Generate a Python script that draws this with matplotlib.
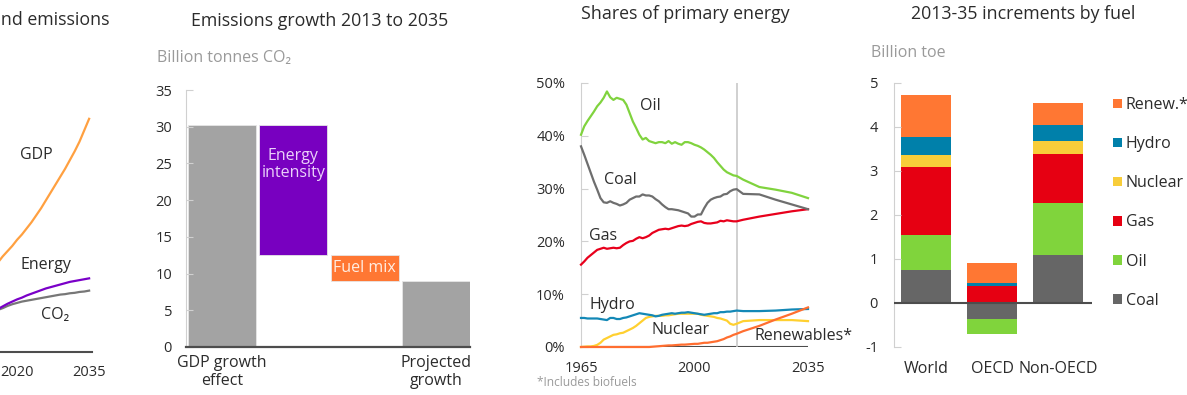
import matplotlib
matplotlib.use("Agg")
import matplotlib.pyplot as plt
import numpy as np

plt.rcParams['font.family'] = ['Open Sans', 'DejaVu Sans']
plt.rcParams['axes.unicode_minus'] = False

# ---------------- data ----------------
# Panel 1: GDP, energy and emissions (index, partial view)
p1_years = list(range(2014, 2036))
p1_gdp = [93, 98, 102, 109, 115, 121, 128, 134, 141, 148, 156,
          164, 173, 182, 191, 200, 209, 219, 229, 240, 253, 266]
p1_energy = [43, 46, 49, 52, 55, 57.5, 60, 62, 64.5, 66.5, 68.5,
             70.5, 72.5, 74, 75.5, 77, 78.5, 80, 81, 82, 83, 84]
p1_co2 = [43, 45.5, 48, 50, 52.5, 54.5, 56, 57.5, 58.5, 59.5, 60.5,
          61.5, 62.5, 63.5, 64.5, 65.5, 66, 67, 67.5, 68.5, 69, 70]
p1_ticks = [1990, 2005, 2020, 2035]

# Panel 2: Emissions growth 2013 to 2035 (billion tonnes CO2)
wf_labels = ["GDP growth\neffect", "Energy\nintensity", "Fuel mix", "Projected\ngrowth"]
wf_changes = [30.2, -17.7, -3.5]
wf_total = 9.0

# Panel 3: Shares of primary energy (%)
share_years = list(range(1965, 2014)) + [2015, 2020, 2025, 2030, 2035]
oil = [40.2, 41.8, 42.8, 43.7, 44.6, 45.6, 46.3, 47.2, 48.4, 47.3,
       46.8, 47.2, 47.0, 46.8, 45.9, 44.3, 42.7, 41.5, 40.2, 39.3,
       39.6, 39.0, 38.8, 38.6, 38.8, 38.8, 38.6, 39.0, 38.5, 38.8,
       38.5, 38.3, 38.8, 38.8, 38.6, 38.3, 38.1, 37.8, 37.4, 36.9,
       36.4, 35.8, 35.0, 34.3, 33.6, 33.1, 32.8, 32.5, 32.4,
       31.7, 30.3, 29.8, 29.2, 28.2]
coal = [38.0, 36.4, 34.7, 33.0, 31.3, 29.8, 28.2, 27.4, 27.3, 27.6,
        27.3, 27.1, 26.8, 27.0, 27.3, 27.9, 28.2, 28.5, 28.5, 28.9,
        28.7, 28.7, 28.5, 28.0, 27.6, 27.0, 26.5, 26.1, 26.1, 26.0,
        25.9, 25.7, 25.5, 25.3, 24.7, 24.7, 25.1, 25.1, 26.3, 27.3,
        27.9, 28.2, 28.4, 28.5, 28.9, 29.0, 29.5, 29.8, 29.9,
        29.0, 28.9, 27.9, 27.0, 26.1]
gas = [15.6, 16.2, 16.9, 17.4, 17.9, 18.4, 18.6, 18.8, 18.6, 18.7,
       18.8, 18.7, 18.8, 19.3, 19.7, 20.0, 20.1, 20.5, 20.8, 20.6,
       20.8, 21.1, 21.6, 21.9, 22.2, 22.3, 22.4, 22.3, 22.5, 22.7,
       22.9, 23.0, 22.9, 23.0, 23.3, 23.5, 23.7, 23.8, 23.5, 23.4,
       23.4, 23.5, 23.6, 23.9, 23.8, 24.0, 23.9, 23.8, 23.8,
       24.1, 24.7, 25.2, 25.7, 26.1]
hydro = [5.5, 5.5, 5.4, 5.4, 5.4, 5.4, 5.3, 5.2, 5.1, 5.5,
         5.5, 5.3, 5.3, 5.5, 5.6, 5.8, 6.0, 6.2, 6.4, 6.3,
         6.2, 6.1, 6.0, 5.8, 5.9, 6.1, 6.2, 6.3, 6.4, 6.3,
         6.4, 6.5, 6.5, 6.6, 6.5, 6.4, 6.3, 6.2, 6.1, 6.2,
         6.3, 6.4, 6.4, 6.6, 6.6, 6.7, 6.7, 6.8, 6.9,
         6.8, 6.8, 6.9, 7.1, 7.2]
nuclear = [0.0, 0.05, 0.1, 0.1, 0.2, 0.4, 0.8, 1.4, 1.7, 2.0,
           2.3, 2.4, 2.6, 2.7, 3.0, 3.3, 3.6, 4.0, 4.5, 5.0,
           5.5, 5.7, 5.8, 5.9, 5.9, 5.9, 6.0, 6.0, 6.1, 6.2,
           6.3, 6.3, 6.3, 6.3, 6.3, 6.3, 6.3, 6.1, 6.0, 5.9,
           5.8, 5.7, 5.5, 5.4, 5.2, 5.0, 4.4, 4.2, 4.4,
           4.9, 5.1, 5.1, 5.1, 4.9]
renewables = [0.0, 0.0, 0.0, 0.0, 0.0, 0.0, 0.0, 0.0, 0.0, 0.0,
              0.0, 0.0, 0.0, 0.0, 0.0, 0.0, 0.0, 0.0, 0.0, 0.0,
              0.0, 0.0, 0.05, 0.1, 0.15, 0.2, 0.25, 0.3, 0.3, 0.35,
              0.4, 0.45, 0.45, 0.5, 0.55, 0.6, 0.6, 0.7, 0.8, 0.8,
              0.9, 1.0, 1.1, 1.3, 1.5, 1.8, 2.0, 2.3, 2.5,
              3.0, 4.0, 5.2, 6.3, 7.5]
share_ticks = [1965, 2000, 2035]

# Panel 4: 2013-35 increments by fuel (billion toe)
regions = ["World", "OECD", "Non-OECD"]
fuels = ["Coal", "Oil", "Gas", "Nuclear", "Hydro", "Renew.*"]
inc_coal = [0.74, -0.36, 1.10]
inc_oil = [0.81, -0.34, 1.17]
inc_gas = [1.53, 0.39, 1.12]
inc_nuclear = [0.29, 0.0, 0.30]
inc_hydro = [0.40, 0.06, 0.36]
inc_renew = [0.95, 0.46, 0.49]

# ---------------- layout helpers ----------------
W, H = 1187, 395
fig = plt.figure(figsize=(W / 100, H / 100), dpi=100)


def add_ax(x0, ytop, x1, ybot):
    return fig.add_axes([x0 / W, 1 - ybot / H, (x1 - x0) / W, (ybot - ytop) / H])


def ftext(x, y, s, **kw):
    fig.text(x / W, 1 - y / H, s, **kw)


DARK = '#2b2b2b'
GRAYTXT = '#9a9a9a'
SPINE = '#d0d0d0'
BASE = '#4d4d4d'
TITLE_FS = 12.8
NUM_FS = 10.5
LAB_FS = 11.5

# ---------------- panel 1 ----------------
ax1 = add_ax(-127, 89, 92, 352)
ax1.set_xlim(1990, 2035.6)
ax1.set_ylim(0, 300)
for s in ['left', 'right', 'top']:
    ax1.spines[s].set_visible(False)
ax1.spines['bottom'].set_color(BASE)
ax1.spines['bottom'].set_linewidth(1.5)
ax1.set_yticks([])
ax1.set_xticks(p1_ticks)
ax1.tick_params(axis='x', length=0, pad=9, labelsize=NUM_FS, labelcolor=DARK)
ax1.plot(p1_years, p1_gdp, color='#FFA040', lw=1.6)
ax1.plot(p1_years, p1_co2, color='#777777', lw=1.6)
ax1.plot(p1_years, p1_energy, color='#7A00C8', lw=1.6)
ax1.text(2024.0, 225, 'GDP', color=DARK, fontsize=LAB_FS, ha='center', va='center')
ax1.text(2026.0, 99, 'Energy', color=DARK, fontsize=LAB_FS, ha='center', va='center')
ax1.text(2027.9, 42, 'CO\u2082', color=DARK, fontsize=LAB_FS, ha='center', va='center')
ftext(110, 20, 'GDP, energy and emissions', ha='right', va='center',
      fontsize=TITLE_FS, color=DARK)

# ---------------- panel 2 ----------------
ax2 = add_ax(186, 90, 470, 347)
ax2.set_xlim(-0.505, 3.477)
ax2.set_ylim(0, 35)
for s in ['right', 'top']:
    ax2.spines[s].set_visible(False)
ax2.spines['left'].set_color(SPINE)
ax2.spines['bottom'].set_color(BASE)
ax2.spines['bottom'].set_linewidth(1.6)
ax2.spines['bottom'].set_zorder(5)
bottoms = []
heights = []
level = 0.0
for v in wf_changes:
    if v >= 0:
        bottoms.append(level)
        heights.append(v)
    else:
        bottoms.append(level + v)
        heights.append(-v)
    level += v
bottoms.append(0)
heights.append(wf_total)
wf_colors = ['#A3A3A3', '#7800C0', '#FF7733', '#A3A3A3']
xpos = np.arange(len(wf_labels))
ax2.bar(xpos, heights, bottom=bottoms, width=0.953, color=wf_colors,
        edgecolor='#e6e6e6', linewidth=0.6)
ax2.set_yticks(np.arange(0, 36, 5))
ax2.tick_params(axis='y', direction='in', length=5, color=SPINE, pad=10,
                labelsize=NUM_FS, labelcolor=DARK)
ax2.set_xticks(xpos)
ax2.set_xticklabels([wf_labels[0], '', '', wf_labels[3]], linespacing=1.15)
ax2.tick_params(axis='x', length=0, pad=6, labelsize=LAB_FS, labelcolor=DARK)
ax2.text(1, 24.8, wf_labels[1], ha='center', va='center',
         color='#EBD2FA', fontsize=LAB_FS, linespacing=1.1)
ax2.text(2, bottoms[2] + heights[2] / 2, wf_labels[2], ha='center', va='center',
         color='#FFEDE2', fontsize=LAB_FS)
ftext(320, 21, 'Emissions growth 2013 to 2035', ha='center', va='center',
      fontsize=TITLE_FS, color=DARK)
ftext(157, 58, 'Billion tonnes CO\u2082', ha='left', va='center',
      fontsize=LAB_FS, color=GRAYTXT)

# ---------------- panel 3 ----------------
ax3 = add_ax(581, 83, 808, 347)
ax3.set_xlim(1965, 2035)
ax3.set_ylim(0, 50)
for s in ['right', 'top', 'bottom']:
    ax3.spines[s].set_visible(False)
ax3.spines['left'].set_color(SPINE)
ax3.axhline(0, color=BASE, lw=1.5, zorder=1)
ax3.axvline(2013, color='#c8c8c8', lw=1.2, zorder=1)
ax3.set_yticks(np.arange(0, 51, 10))
ax3.set_yticklabels([f'{v}%' for v in range(0, 51, 10)])
ax3.tick_params(axis='y', direction='in', length=5, color=SPINE, pad=11.5,
                labelsize=NUM_FS, labelcolor=DARK)
ax3.set_xticks(share_ticks)
ax3.tick_params(axis='x', length=0, pad=10, labelsize=NUM_FS, labelcolor=DARK)
series3 = [
    (nuclear, '#FFD030'),
    (hydro, '#1388B6'),
    (gas, '#E8001C'),
    (coal, '#6E6E6E'),
    (oil, '#80D33E'),
    (renewables, '#FF6E30'),
]
for vals, col in series3:
    ax3.plot(share_years, vals, color=col, lw=1.6, clip_on=False, zorder=3)
lab3 = [('Oil', 1986.3, 45.6), ('Coal', 1977.0, 31.6), ('Gas', 1971.8, 21.0),
        ('Hydro', 1974.6, 7.9), ('Nuclear', 1995.6, 3.2), ('Renewables*', 2033.5, 2.1)]
for s, x, y in lab3:
    ax3.text(x, y, s, ha='center', va='center', fontsize=LAB_FS, color=DARK, zorder=4)
ftext(685, 14, 'Shares of primary energy', ha='center', va='center',
      fontsize=TITLE_FS, color=DARK)
ftext(537, 383, '*Includes biofuels', ha='left', va='center', fontsize=8.6,
      color=GRAYTXT)

# ---------------- panel 4 ----------------
ax4 = add_ax(894, 83, 1092, 347)
ax4.set_xlim(-0.49, 2.51)
ax4.set_ylim(-1, 5)
for s in ['right', 'top', 'bottom']:
    ax4.spines[s].set_visible(False)
ax4.spines['left'].set_color(SPINE)
ax4.axhline(0, color=BASE, lw=1.5, zorder=5)
inc_series = [inc_coal, inc_oil, inc_gas, inc_nuclear, inc_hydro, inc_renew]
fuel_colors = ['#666666', '#80D43C', '#E60012', '#F8CD3A', '#0080AA', '#FF7733']
x4 = np.arange(len(regions))
pos_b = np.zeros(len(regions))
neg_b = np.zeros(len(regions))
handles = []
for vals, col, name in zip(inc_series, fuel_colors, fuels):
    vals = np.array(vals)
    b = np.where(vals >= 0, pos_b, neg_b)
    h = ax4.bar(x4, vals, bottom=b, width=0.755, color=col, label=name,
                edgecolor='none')
    handles.append(h)
    pos_b = pos_b + np.where(vals > 0, vals, 0)
    neg_b = neg_b + np.where(vals < 0, vals, 0)
ax4.set_yticks(np.arange(-1, 6, 1))
ax4.tick_params(axis='y', direction='in', length=5, color=SPINE, pad=11.5,
                labelsize=NUM_FS, labelcolor=DARK)
ax4.set_xticks(x4)
ax4.set_xticklabels(regions)
ax4.tick_params(axis='x', length=0, pad=10, labelsize=LAB_FS, labelcolor=DARK)
leg = ax4.legend(handles[::-1], fuels[::-1], loc='upper left',
                 bbox_to_anchor=(1113 / W, 1 - 97 / H), bbox_transform=fig.transFigure,
                 frameon=False, fontsize=LAB_FS, handlelength=0.55, handleheight=0.55,
                 handletextpad=0.25, labelspacing=1.45, borderaxespad=0, borderpad=0)
for t in leg.get_texts():
    t.set_color(DARK)
ftext(1023, 14, '2013-35 increments by fuel', ha='center', va='center',
      fontsize=TITLE_FS, color=DARK)
ftext(871, 53, 'Billion toe', ha='left', va='center', fontsize=LAB_FS, color=GRAYTXT)

fig.savefig('out.png', dpi=100)
